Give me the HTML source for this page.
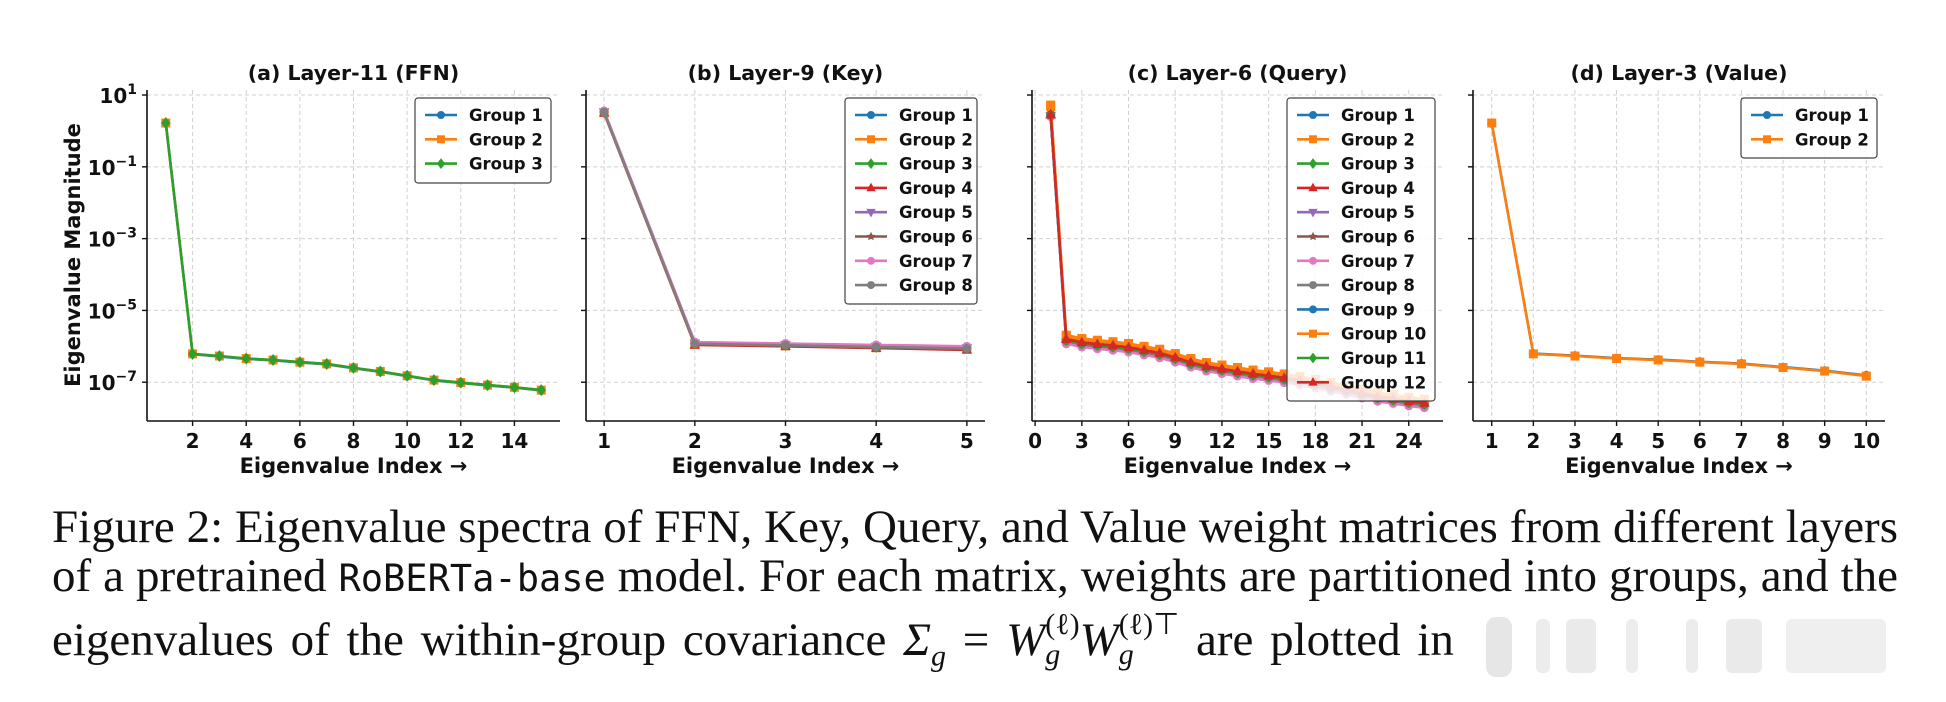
<!DOCTYPE html>
<html><head><meta charset="utf-8">
<style>
html,body{margin:0;padding:0;background:#fff;}
body{width:1946px;height:702px;overflow:hidden;position:relative;}
svg text{font-family:"DejaVu Sans","Liberation Sans",sans-serif;font-weight:bold;}
.cap{position:absolute;left:52px;width:1846px;font-family:"Liberation Serif",serif;font-size:47px;line-height:56px;color:#111;white-space:nowrap;}
.j{text-align:justify;text-align-last:justify;}
.mono{font-family:"DejaVu Sans Mono","Liberation Mono",monospace;font-size:37px;}
</style></head><body>
<svg id="fig" width="1946" height="480" style="position:absolute;left:0;top:0" xmlns="http://www.w3.org/2000/svg"></svg>
<div class="cap j" style="top:499px">Figure 2: Eigenvalue spectra of FFN, Key, Query, and Value weight matrices from different layers</div>
<div class="cap j" style="top:548px">of a pretrained <span class="mono">RoBERTa-base</span> model. For each matrix, weights are partitioned into groups, and the</div>
<div class="cap" style="top:612px;word-spacing:5px">eigenvalues of the within-group covariance <i>Σ<sub style="font-size:30px">g</sub></i> = <i>W</i><span style="display:inline-block;vertical-align:middle;line-height:1;font-size:30px;position:relative;top:-4px"><span style="display:block">(ℓ)</span><span style="display:block"><i>g</i></span></span><i>W</i><span style="display:inline-block;vertical-align:middle;line-height:1;font-size:30px;position:relative;top:-4px"><span style="display:block">(ℓ)⊤</span><span style="display:block"><i>g</i></span></span> are plotted in</div>
<div style="position:absolute;left:1486px;top:615px;width:420px;height:66px;">
  <div style="position:absolute;left:0;top:2px;width:26px;height:60px;background:#e6e6e6;border-radius:10px"></div>
  <div style="position:absolute;left:50px;top:4px;width:14px;height:54px;background:#ececec;border-radius:6px"></div>
  <div style="position:absolute;left:80px;top:4px;width:30px;height:54px;background:#eaeaea;border-radius:6px"></div>
  <div style="position:absolute;left:140px;top:4px;width:12px;height:54px;background:#ececec;border-radius:6px"></div>
  <div style="position:absolute;left:200px;top:4px;width:12px;height:54px;background:#ececec;border-radius:6px"></div>
  <div style="position:absolute;left:240px;top:4px;width:36px;height:54px;background:#eaeaea;border-radius:6px"></div>
  <div style="position:absolute;left:300px;top:4px;width:100px;height:54px;background:#efefef;border-radius:6px"></div>
</div>
<script>
// ---- data (log10 eigenvalue magnitudes) ----
const ffnIndex = [1,2,3,4,5,6,7,8,9,10,11,12,13,14,15];
const ffnGroup1 = [0.21,-6.22,-6.28,-6.35,-6.39,-6.45,-6.50,-6.61,-6.71,-6.83,-6.95,-7.02,-7.09,-7.15,-7.23];
const ffnGroup2 = [0.22,-6.21,-6.27,-6.34,-6.38,-6.44,-6.49,-6.60,-6.70,-6.82,-6.94,-7.01,-7.08,-7.14,-7.22];
const ffnGroup3 = [0.22,-6.21,-6.27,-6.34,-6.38,-6.44,-6.49,-6.60,-6.70,-6.82,-6.94,-7.01,-7.08,-7.14,-7.22];
const ffnTicks = [2,4,6,8,10,12,14];

const keyIndex = [1,2,3,4,5];
const keyGroup1 = [0.52,-5.93,-5.97,-6.02,-6.06];
const keyGroup2 = [0.51,-5.95,-5.99,-6.04,-6.08];
const keyGroup3 = [0.52,-5.92,-5.96,-6.01,-6.05];
const keyGroup4 = [0.50,-5.96,-6.00,-6.05,-6.10];
const keyGroup5 = [0.53,-5.91,-5.95,-6.00,-6.04];
const keyGroup6 = [0.51,-5.94,-5.98,-6.03,-6.08];
const keyGroup7 = [0.56,-5.88,-5.92,-5.96,-6.00];
const keyGroup8 = [0.52,-5.93,-5.97,-6.02,-6.06];
const keyTicks = [1,2,3,4,5];

const qIndex = [1,2,3,4,5,6,7,8,9,10,11,12,13,14,15,16,17,18,19,20,21,22,23,24,25];
const qGroup1 = [0.46,-5.81,-5.90,-5.95,-5.99,-6.04,-6.12,-6.20,-6.32,-6.46,-6.57,-6.64,-6.71,-6.78,-6.83,-6.89,-6.96,-7.04,-7.13,-7.22,-7.32,-7.41,-7.47,-7.54,-7.59];
const qGroup2 = [0.72,-5.69,-5.78,-5.83,-5.87,-5.92,-6.00,-6.08,-6.20,-6.34,-6.45,-6.52,-6.59,-6.66,-6.71,-6.77,-6.84,-6.92,-7.01,-7.10,-7.20,-7.29,-7.35,-7.42,-7.47];
const qGroup3 = [0.44,-5.84,-5.93,-5.98,-6.02,-6.07,-6.15,-6.23,-6.35,-6.49,-6.60,-6.67,-6.74,-6.81,-6.86,-6.92,-6.99,-7.07,-7.16,-7.25,-7.35,-7.44,-7.50,-7.57,-7.62];
const qGroup4 = [0.47,-5.79,-5.88,-5.93,-5.97,-6.02,-6.10,-6.18,-6.30,-6.44,-6.55,-6.62,-6.69,-6.76,-6.81,-6.87,-6.94,-7.02,-7.11,-7.20,-7.30,-7.39,-7.45,-7.52,-7.57];
const qGroup5 = [0.42,-5.89,-5.98,-6.03,-6.07,-6.12,-6.20,-6.28,-6.40,-6.54,-6.65,-6.72,-6.79,-6.86,-6.91,-6.97,-7.04,-7.12,-7.21,-7.30,-7.40,-7.49,-7.55,-7.62,-7.67];
const qGroup6 = [0.43,-5.87,-5.96,-6.01,-6.05,-6.10,-6.18,-6.26,-6.38,-6.52,-6.63,-6.70,-6.77,-6.84,-6.89,-6.95,-7.02,-7.10,-7.19,-7.28,-7.38,-7.47,-7.53,-7.60,-7.65];
const qGroup7 = [0.40,-5.93,-6.02,-6.07,-6.11,-6.16,-6.24,-6.32,-6.44,-6.58,-6.69,-6.76,-6.83,-6.90,-6.95,-7.01,-7.08,-7.16,-7.25,-7.34,-7.44,-7.53,-7.59,-7.66,-7.71];
const qGroup8 = [0.44,-5.85,-5.94,-5.99,-6.03,-6.08,-6.16,-6.24,-6.36,-6.50,-6.61,-6.68,-6.75,-6.82,-6.87,-6.93,-7.00,-7.08,-7.17,-7.26,-7.36,-7.45,-7.51,-7.58,-7.63];
const qGroup9 = [0.45,-5.82,-5.91,-5.96,-6.00,-6.05,-6.13,-6.21,-6.33,-6.47,-6.58,-6.65,-6.72,-6.79,-6.84,-6.90,-6.97,-7.05,-7.14,-7.23,-7.33,-7.42,-7.48,-7.55,-7.60];
const qGroup10 = [0.68,-5.72,-5.81,-5.86,-5.90,-5.95,-6.03,-6.11,-6.23,-6.37,-6.48,-6.55,-6.62,-6.69,-6.74,-6.80,-6.87,-6.95,-7.04,-7.13,-7.23,-7.32,-7.38,-7.45,-7.50];
const qGroup11 = [0.45,-5.83,-5.92,-5.97,-6.01,-6.06,-6.14,-6.22,-6.34,-6.48,-6.59,-6.66,-6.73,-6.80,-6.85,-6.91,-6.98,-7.06,-7.15,-7.24,-7.34,-7.43,-7.49,-7.56,-7.61];
const qGroup12 = [0.45,-5.80,-5.89,-5.94,-5.98,-6.03,-6.11,-6.19,-6.31,-6.45,-6.56,-6.63,-6.70,-6.77,-6.82,-6.88,-6.95,-7.03,-7.12,-7.21,-7.31,-7.40,-7.46,-7.53,-7.58];
const qTicks = [0,3,6,9,12,15,18,21,24];

const valIndex = [1,2,3,4,5,6,7,8,9,10];
const valGroup1 = [0.21,-6.20,-6.26,-6.33,-6.37,-6.43,-6.48,-6.58,-6.68,-6.81];
const valGroup2 = [0.22,-6.21,-6.27,-6.34,-6.38,-6.44,-6.49,-6.59,-6.69,-6.83];
const valTicks = [1,2,3,4,5,6,7,8,9,10];

const yTickExps = [1,-1,-3,-5,-7];

// ---- rendering ----
const NS = "http://www.w3.org/2000/svg";
const svg = document.getElementById("fig");
const COLORS = ["#1f77b4","#ff7f0e","#2ca02c","#d62728","#9467bd","#8c564b","#e377c2","#7f7f7f","#1f77b4","#ff7f0e","#2ca02c","#d62728"];
const MARKERS = ["o","s","D","^","v","*","p","o","o","s","D","^"];
const Y_TOP = 90, Y_BOT = 421, YMAX = 1.14, YMIN = -8.08;
function yPx(v){ return Y_TOP + (YMAX - v) / (YMAX - YMIN) * (Y_BOT - Y_TOP); }
function el(tag, attrs, parent){
  const e = document.createElementNS(NS, tag);
  for (const k in attrs) e.setAttribute(k, attrs[k]);
  (parent || svg).appendChild(e);
  return e;
}
function marker(g, type, x, y, color, r){
  let m;
  if (type === "o") m = el("circle", {cx:x, cy:y, r:r}, g);
  else if (type === "s") m = el("rect", {x:x-r, y:y-r, width:2*r, height:2*r}, g);
  else if (type === "D") m = el("polygon", {points:`${x},${y-r*1.3} ${x+r},${y} ${x},${y+r*1.3} ${x-r},${y}`}, g);
  else if (type === "^") m = el("polygon", {points:`${x},${y-r*1.2} ${x+r*1.1},${y+r*0.8} ${x-r*1.1},${y+r*0.8}`}, g);
  else if (type === "v") m = el("polygon", {points:`${x},${y+r*1.2} ${x+r*1.1},${y-r*0.8} ${x-r*1.1},${y-r*0.8}`}, g);
  else {
    let pts = [];
    const n = type === "*" ? 5 : 6;
    for (let i = 0; i < n * 2; i++){
      const rr = (type === "*" && i % 2) ? r * 0.5 : r;
      const a = -Math.PI/2 + i * Math.PI / n;
      pts.push((x + rr*Math.cos(a)).toFixed(1) + "," + (y + rr*Math.sin(a)).toFixed(1));
    }
    m = el("polygon", {points: pts.join(" ")}, g);
  }
  m.setAttribute("fill", color);
  m.setAttribute("stroke", color);
  
  
}
function panel(cfg){
  const g = el("g", {});
  
  
  const xPx = v => cfg.x0 + (v - cfg.xmin) / (cfg.xmax - cfg.xmin) * (cfg.x1 - cfg.x0);
  cfg.ticks.forEach(t => {
    const l = el("line", {x1:xPx(t), x2:xPx(t), y1:Y_TOP, y2:Y_BOT, stroke:"#d0d0d0", "stroke-width":1, "stroke-dasharray":"4,3"}, g);
    
    
  });
  yTickExps.forEach(e => {
    const l = el("line", {x1:cfg.x0, x2:cfg.x1, y1:yPx(e), y2:yPx(e), stroke:"#d0d0d0", "stroke-width":1, "stroke-dasharray":"4,3"}, g);
    
    
  });
  cfg.series.forEach((s, i) => {
    const sg = el("g", {}, g);
    
    
    const pts = cfg.xs.map((x, j) => xPx(x).toFixed(1) + "," + yPx(s[j]).toFixed(1)).join(" ");
    const pl = el("polyline", {points:pts, fill:"none", stroke:COLORS[i], "stroke-width":2.6, "stroke-linejoin":"round"}, sg);
    
    
    cfg.xs.forEach((x, j) => marker(sg, MARKERS[i], xPx(x), yPx(s[j]), COLORS[i], 4));
  });
  const sl = el("line", {x1:cfg.x0, x2:cfg.x0, y1:Y_TOP, y2:Y_BOT, stroke:"#111", "stroke-width":1.6}, g);
  
  
  const sb = el("line", {x1:cfg.x0, x2:cfg.x1, y1:Y_BOT, y2:Y_BOT, stroke:"#111", "stroke-width":1.6}, g);
  
  
  cfg.ticks.forEach(t => {
    el("line", {x1:xPx(t), x2:xPx(t), y1:Y_BOT, y2:Y_BOT+5, stroke:"#111", "stroke-width":1.4}, g);
    const tx = el("text", {x:xPx(t), y:Y_BOT+27, "text-anchor":"middle", "font-size":20, fill:"#111"}, g);
    
    
    tx.textContent = t;
  });
  yTickExps.forEach(e => {
    el("line", {x1:cfg.x0-5, x2:cfg.x0, y1:yPx(e), y2:yPx(e), stroke:"#111", "stroke-width":1.4}, g);
    if (cfg.yLabels){
      const tx = el("text", {x:cfg.x0-10, y:yPx(e)+8, "text-anchor":"end", "font-size":20, fill:"#111"}, g);
      
      
      const b = el("tspan", {}, tx); b.textContent = "10";
      const sup = el("tspan", {dy:-9, "font-size":14}, tx); sup.textContent = e < 0 ? "−" + (-e) : String(e);
    }
  });
  const tt = el("text", {x:(cfg.x0+cfg.x1)/2, y:80, "text-anchor":"middle", "font-size":20.5, fill:"#111"}, g);
  
  
  tt.textContent = cfg.title;
  const xl = el("text", {x:(cfg.x0+cfg.x1)/2, y:473, "text-anchor":"middle", "font-size":21, fill:"#111"}, g);
  
  
  xl.textContent = "Eigenvalue Index →";
  const L = cfg.legend;
  const lg = el("g", {}, g);
  
  
  el("rect", {x:L.x, y:98, width:L.w, height:L.h, rx:3, fill:"#fff", "fill-opacity":0.82, stroke:"#444", "stroke-width":1.2}, lg);
  cfg.series.forEach((s, i) => {
    const y = 115 + i * 24.3;
    const eg = el("g", {}, lg);
    
    
    el("line", {x1:L.x+10, x2:L.x+42, y1:y, y2:y, stroke:COLORS[i], "stroke-width":2.6}, eg);
    marker(eg, MARKERS[i], L.x+26, y, COLORS[i], 3.5);
    const t = el("text", {x:L.x+54, y:y+6, "font-size":16.5, fill:"#111"}, eg);
    t.textContent = "Group " + (i+1);
  });
}
panel({name:"panel-a-ffn", title:"(a) Layer-11 (FFN)", x0:147, x1:560, xmin:0.3, xmax:15.7, xs:ffnIndex, ticks:ffnTicks, yLabels:true,
  series:[ffnGroup1, ffnGroup2, ffnGroup3], legend:{x:415, w:136, h:85}});
panel({name:"panel-b-key", title:"(b) Layer-9 (Key)", x0:586, x1:985, xmin:0.8, xmax:5.2, xs:keyIndex, ticks:keyTicks,
  series:[keyGroup1,keyGroup2,keyGroup3,keyGroup4,keyGroup5,keyGroup6,keyGroup7,keyGroup8], legend:{x:845, w:132, h:206}});
panel({name:"panel-c-query", title:"(c) Layer-6 (Query)", x0:1032, x1:1443, xmin:-0.2, xmax:26.2, xs:qIndex, ticks:qTicks,
  series:[qGroup1,qGroup2,qGroup3,qGroup4,qGroup5,qGroup6,qGroup7,qGroup8,qGroup9,qGroup10,qGroup11,qGroup12], legend:{x:1287, w:148, h:303}});
panel({name:"panel-d-value", title:"(d) Layer-3 (Value)", x0:1473, x1:1885, xmin:0.55, xmax:10.45, xs:valIndex, ticks:valTicks,
  series:[valGroup1, valGroup2], legend:{x:1741, w:136, h:60}});
const yl = el("text", {x:0, y:0, "text-anchor":"middle", "font-size":21, fill:"#111", transform:"translate(80,255) rotate(-90)"});


yl.textContent = "Eigenvalue Magnitude";
</script>
</body></html>
